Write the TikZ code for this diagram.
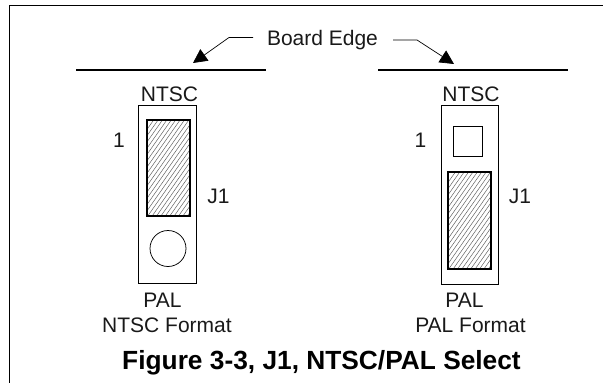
\documentclass[tikz,border=0pt]{standalone}
\usepackage{fontspec}
\setmainfont{Liberation Sans}
\usetikzlibrary{arrows.meta,calc}
\tikzset{
  lbl/.style={inner sep=0pt,anchor=base,font=\fontsize{21}{23}\selectfont,text=black!90},
  boardline/.style={line width=2pt},
  jumperbody/.style={draw,line width=0.75pt,fill=white},
  shunt/.style={outer sep=0pt},
  shuntedge/.style={draw=black,line width=2pt},
  hatchline/.style={line width=0.45pt,draw=black!65},
  leader/.style={line width=0.7pt,-{Triangle[length=14pt,width=14pt]}}
}
\begin{document}
\begin{tikzpicture}[x=1pt,y=-1pt]
\useasboundingbox (0,0) rectangle (603,383);
\draw[line width=1pt] (603,5.5) -- (9,5.5) -- (9,383);
% board edges
\coordinate (a1) at (76,70); \coordinate (a2) at (266,70);
\coordinate (b1) at (378,70); \coordinate (b2) at (568,70);
\draw[boardline] (a1) -- (a2);
\draw[boardline] (b1) -- (b2);
\node[lbl] (be) at (322.5,45) {Board Edge};
\coordinate (la) at (253,37.5); \coordinate (lb) at (229,37.5); \coordinate (lt) at (193,63);
\coordinate (ra) at (393,40); \coordinate (rb) at (417,40); \coordinate (rt) at (454,64);
\draw[leader] (la) -- (lb) -- (lt);
\draw[leader] (ra) -- (rb) -- (rt);
% left jumper
\node[jumperbody,minimum width=58pt,minimum height=178pt,inner sep=0pt] (jl) at (167.5,194.5) {};
\node[shunt,minimum width=43pt,minimum height=96pt,inner sep=0pt] (sl) at (168,167.5) {};
\begin{scope}
\clip (sl.north west) rectangle (sl.south east);
\foreach \k in {0,...,38} \draw[hatchline] ($(sl.south west)+(\k*4.4-60,0)$) -- +(90,-128);
\end{scope}
\draw[shuntedge] (sl.north west) rectangle (sl.south east);
\node[circle,draw,line width=0.75pt,minimum size=36pt,inner sep=0pt] (cl) at (168,248.5) {};
\node[lbl] (nl) at (169.5,101) {NTSC};
\node[lbl] (ol) at (119,147) {1};
\node[lbl] (jnl) at (218.5,203) {J1};
\node[lbl] (pl) at (162.5,307) {PAL};
\node[lbl] (fl) at (167,332) {NTSC Format};
% right jumper
\node[jumperbody,minimum width=57pt,minimum height=179pt,inner sep=0pt] (jr) at (469.5,194.5) {};
\node[draw,line width=0.75pt,minimum width=29pt,minimum height=30pt,inner sep=0pt] (sq) at (468,141.5) {};
\node[shunt,minimum width=43pt,minimum height=97pt,inner sep=0pt] (sr) at (469,220) {};
\begin{scope}
\clip (sr.north west) rectangle (sr.south east);
\foreach \k in {0,...,38} \draw[hatchline] ($(sr.south west)+(\k*4.4-60,0)$) -- +(90,-128);
\end{scope}
\draw[shuntedge] (sr.north west) rectangle (sr.south east);
\node[lbl] (nr) at (471,101) {NTSC};
\node[lbl] (or) at (420.5,147) {1};
\node[lbl] (jnr) at (520,203) {J1};
\node[lbl] (pr) at (464.5,307) {PAL};
\node[lbl] (fr) at (470.5,332) {PAL Format};
\node[inner sep=0pt,anchor=base,font=\fontsize{26.3}{28}\selectfont\bfseries,text=black] (cap) at (321.5,369.5) {Figure 3-3, J1, NTSC/PAL Select};
\end{tikzpicture}
\end{document}
